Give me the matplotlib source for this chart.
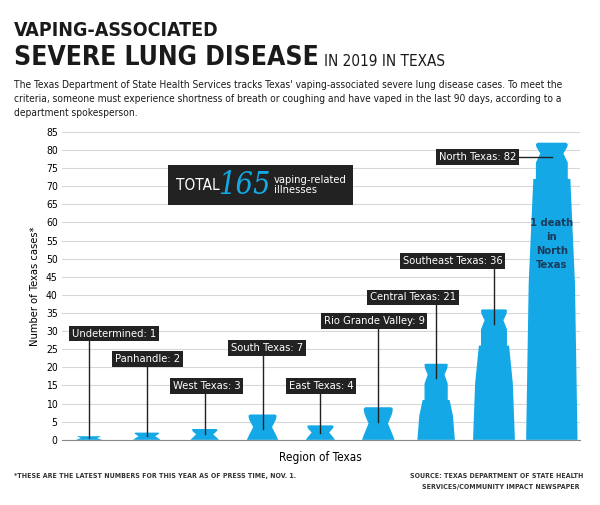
import matplotlib
matplotlib.use("Agg")
import matplotlib.pyplot as plt
from matplotlib.patches import Polygon

regions = ["Undetermined", "Panhandle", "West Texas", "South Texas", "East Texas",
           "Rio Grande Valley", "Central Texas", "Southeast Texas", "North Texas"]
cases = [1, 2, 3, 7, 4, 9, 21, 36, 82]
label_y = [27.5, 20.5, 13, 23.5, 13, 31, 37.5, 47.5, 75.5]
yticks = list(range(0, 90, 5))

plt.rcParams['font.family'] = ['DejaVu Sans']
plt.rcParams['font.stretch'] = 'condensed'

BLUE = "#14a9e6"
fig = plt.figure(figsize=(6, 5.05), dpi=100)
ax = fig.add_axes([0.103, 0.129, 0.863, 0.61])
ax.set_xlim(-0.47, 8.48)
ax.set_ylim(0, 85)
ax.set_yticks(yticks)
ax.tick_params(axis='y', length=0, labelsize=7.5, pad=3)
ax.set_xticks([])
for s in ["top", "right", "left"]:
    ax.spines[s].set_visible(False)
ax.spines["bottom"].set_color("#888888")
ax.grid(axis='y', color="#d8d8d8", lw=0.8)
ax.set_axisbelow(True)

def vape(x, H):
    wb = 0.2 + 0.027 * H ** 0.5
    if H < 10:
        prof = [(0, wb), (H * 0.2, wb * 0.85), (H * 0.5, wb * 0.6),
                (H * 0.8, wb * 0.85), (H * 0.95, wb * 0.9), (H, wb * 0.8)]
    else:
        m = 10.0
        b = H - m
        prof = [(0, wb), (b * 0.6, wb * 0.9), (b, wb * 0.72), (b + 0.01, wb * 0.62),
                (b + m * 0.45, wb * 0.62), (b + m * 0.7, wb * 0.45),
                (b + m * 0.88, wb * 0.6), (H * 0.995, wb * 0.62), (H, wb * 0.55)]
    right = [(x + w, y) for y, w in prof]
    left = [(x - w, y) for y, w in reversed(prof)]
    return right + left

box = dict(fc="#222", ec="none", boxstyle="square,pad=0.25")
for i, (r, v, ly) in enumerate(zip(regions, cases, label_y)):
    ax.add_patch(Polygon(vape(i, v), closed=True, fc=BLUE, ec="none", zorder=2))
    txt = f"{r}: {v}"
    if r == "North Texas":
        ax.plot([i - 0.62, i], [ly + 2.5, ly + 2.5], color="#222", lw=1, zorder=3)
        ax.text(i - 0.62, ly + 2.5, txt, ha="right", va="center", color="white",
                fontsize=8, zorder=4, bbox=box)
    else:
        ax.plot([i, i], [ly, max(v - 4, 0.5) if v > 5 else v * 0.5], color="#222", lw=1, zorder=3)
        xo, ha = i - 0.3, "left"
        if r == "Southeast Texas":
            xo = i + 0.15; ha = "right"
        elif r == "Central Texas":
            xo = i + 0.35; ha = "right"
        elif r == "Rio Grande Valley":
            xo = i + 0.8; ha = "right"
        elif r in ("Panhandle", "West Texas", "South Texas", "East Texas"):
            xo = i - 0.55
        ax.text(xo, ly + 1.8, txt, ha=ha, va="center", color="white", fontsize=8, zorder=4, bbox=box)

ax.text(8, 54, "1 death\nin\nNorth\nTexas", ha="center", va="center", fontsize=8,
        color="#1a3a5a", fontweight="bold", zorder=4, linespacing=1.5)

fig.patches.append(plt.Rectangle((168/600, 1-205/505), 185/600, 40/505,
                                 transform=fig.transFigure, fc="#222", ec="none"))
fig.text(176/600, 1-185/505, "TOTAL", color="white", fontsize=11, va="center")
fig.text(218/600, 1-185/505, "165", color=BLUE, fontsize=22, va="center",
         family="DejaVu Serif", style="italic")
fig.text(274/600, 1-185/505, "vaping-related\nillnesses", color="white", fontsize=8,
         va="center", linespacing=1.0)

ax.set_ylabel("Number of Texas cases*", fontsize=8, labelpad=4)
ax.set_xlabel("Region of Texas", fontsize=8.5, labelpad=8)

fig.text(14/600, 1-30/505, "VAPING-ASSOCIATED", fontsize=14, fontweight="bold", va="center",
         color="#1a1a1a")
t = fig.text(14/600, 1-58/505, "SEVERE LUNG DISEASE", fontsize=19, fontweight="bold",
             va="center", color="#1a1a1a")
fig.canvas.draw()
bb = t.get_window_extent(fig.canvas.get_renderer())
fig.text(bb.x1 / 600 + 0.008, 1-61/505, "IN 2019 IN TEXAS", fontsize=11, va="center", color="#1a1a1a")
fig.text(14/600, 1-80/505,
         "The Texas Department of State Health Services tracks Texas' vaping-associated severe lung disease cases. To meet the\n"
         "criteria, someone must experience shortness of breath or coughing and have vaped in the last 90 days, according to a\n"
         "department spokesperson.", fontsize=7.3, va="top", linespacing=1.5, color="#1a1a1a")
fig.text(14/600, 1-476/505, "*THESE ARE THE LATEST NUMBERS FOR THIS YEAR AS OF PRESS TIME, NOV. 1.",
         fontsize=5, va="center", fontweight="bold", color="#333")
fig.text(583/600, 1-476/505, "SOURCE: TEXAS DEPARTMENT OF STATE HEALTH", fontsize=5, ha="right",
         va="center", fontweight="bold", color="#333")
fig.text(580/600, 1-487/505, "SERVICES/COMMUNITY IMPACT NEWSPAPER", fontsize=5, ha="right",
         va="center", fontweight="bold", color="#333")

fig.savefig("out.png", dpi=100)
